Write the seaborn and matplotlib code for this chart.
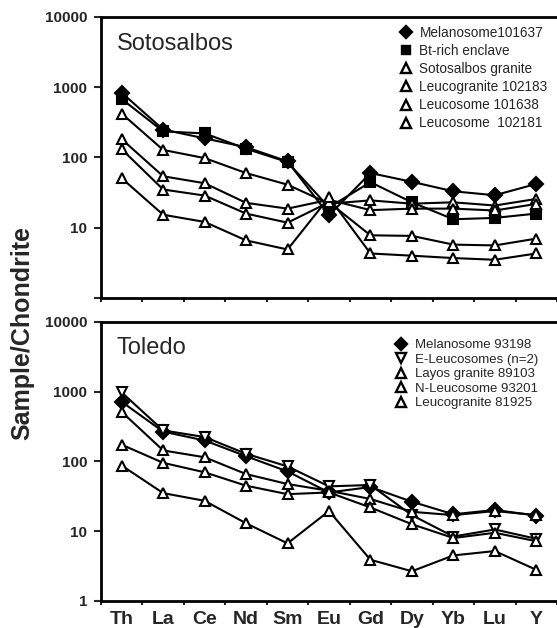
import numpy as np
import pandas as pd
import seaborn as sns
import matplotlib.pyplot as plt
from matplotlib.lines import Line2D

# REE + Th, Y normalised to chondrite
elements = ['Th', 'La', 'Ce', 'Nd', 'Sm', 'Eu', 'Gd', 'Dy', 'Yb', 'Lu', 'Y']

# Sotosalbos samples
melanosome_101637 = [834, 250, 187, 140, 88, 15, 60, 45, 33, 29, 42]
bt_rich_enclave = [680, 235, 220, 133, 86, 19.5, 44.5, 23, 13.2, 13.8, 15.9]
sotosalbos_granite = [421, 128, 98, 60, 41, 22, 24.5, 22, 23, 20.7, 25.7]
leucogranite_102183 = [182, 54, 43, 22.6, 18.7, 25, 17.8, 18.7, 18.7, 17.6, 21.8]
leucosome_101638 = [131, 35, 28.7, 15.9, 11.8, 23, 7.8, 7.65, 5.75, 5.6, 7.0]
leucosome_102181 = [50.6, 15.3, 12.1, 6.6, 4.9, 27, 4.3, 4.0, 3.7, 3.5, 4.3]

# Toledo samples
melanosome_93198 = [717, 268, 200, 119, 72, 36, 43, 26.5, 17.5, 20.2, 16.8]
e_leucosomes = [977, 279, 224, 129, 85, 44, 46, 17, 8.4, 10.6, 7.8]
layos_granite_89103 = [514, 144, 115, 66, 47.5, 38, 29, 19, 17, 19.5, 17]
n_leucosome_93201 = [174, 95.6, 70, 45, 34, 36, 21.9, 12.6, 8.0, 9.5, 7.2]
leucogranite_81925 = [87.5, 35.2, 27.3, 13, 6.7, 19.5, 3.9, 2.67, 4.5, 5.2, 2.8]

# (label, values, marker, filled)
sotosalbos = [
    ('Melanosome101637', melanosome_101637, 'D', True),
    ('Bt-rich enclave', bt_rich_enclave, 's', True),
    ('Sotosalbos granite', sotosalbos_granite, '^', False),
    ('Leucogranite 102183', leucogranite_102183, '^', False),
    ('Leucosome 101638', leucosome_101638, '^', False),
    ('Leucosome  102181', leucosome_102181, '^', False),
]
toledo = [
    ('Melanosome 93198', melanosome_93198, 'D', True),
    ('E-Leucosomes (n=2)', e_leucosomes, 'v', False),
    ('Layos granite 89103', layos_granite_89103, '^', False),
    ('N-Leucosome 93201', n_leucosome_93201, '^', False),
    ('Leucogranite 81925', leucogranite_81925, '^', False),
]

sns.set_style('ticks')
plt.rcParams['font.family'] = ['Liberation Sans', 'DejaVu Sans']

fig = plt.figure(figsize=(5.57, 6.28), dpi=100)
ax_top = fig.add_axes([0.1813, 0.5255, 0.8187, 0.4475])
ax_bot = fig.add_axes([0.1813, 0.043, 0.8187, 0.4443])

pos = np.arange(len(elements))


def draw_panel(ax, series, title):
    handles = []
    for label, vals, mk, filled in series:
        df = pd.DataFrame({'pos': pos, 'value': vals})
        fc = 'black' if filled else 'white'
        ms = 7 if mk == 'D' else (6.5 if mk == 's' else 7.5)
        sns.lineplot(data=df, x='pos', y='value', ax=ax, color='black',
                     linewidth=1.5, marker=mk, markersize=ms,
                     markerfacecolor=fc, markeredgecolor='black',
                     markeredgewidth=1.5, sort=False, legend=False)
        handles.append(Line2D([], [], linestyle='none', marker=mk,
                              markersize=ms - 0.5, markerfacecolor=fc,
                              markeredgecolor='black', markeredgewidth=1.7,
                              label=label))
    ax.set_yscale('log')
    ax.set_ylim(1, 10000)
    ax.set_xlim(-0.5, 10.5)
    ax.set_xlabel('')
    ax.set_ylabel('')
    for s in ax.spines.values():
        s.set_linewidth(2.0)
        s.set_color('black')
    ax.spines['right'].set_visible(False)
    ax.text(0.035, 0.905, title, transform=ax.transAxes, fontsize=17,
            va='center', ha='left')
    ax.set_yticks([1, 10, 100, 1000, 10000])
    ax.minorticks_off()
    ax.set_xticks(pos)
    ax.set_xticks(np.arange(-0.5, 10.6, 1), minor=True)
    ax.tick_params(axis='y', which='major', direction='out', length=5,
                   width=1.5, pad=5, labelsize=11)
    ax.tick_params(axis='x', which='major', length=0, pad=7, labelsize=14)
    ax.tick_params(axis='x', which='minor', direction='out', length=3,
                   width=1.5)
    return handles


h_top = draw_panel(ax_top, sotosalbos, 'Sotosalbos')
ax_top.set_yticklabels(['', '10', '100', '1000', '10000'], fontweight='bold')
ax_top.set_xticklabels([])

h_bot = draw_panel(ax_bot, toledo, 'Toledo')
ax_bot.set_yticklabels(['1', '10', '100', '1000', '10000'], fontweight='bold')
ax_bot.set_xticklabels(elements, fontweight='bold')

ax_top.legend(handles=h_top, loc='upper left', frameon=False,
              bbox_to_anchor=(399 / 557, 1 - 26 / 628),
              bbox_transform=fig.transFigure, fontsize=9.8,
              handlelength=1.0, handletextpad=0.5, labelspacing=0.3,
              borderpad=0, borderaxespad=0)
ax_bot.legend(handles=h_bot, loc='upper left', frameon=False,
              bbox_to_anchor=(394 / 557, 1 - 339 / 628),
              bbox_transform=fig.transFigure, fontsize=9.5,
              handlelength=1.0, handletextpad=0.6, labelspacing=0.17,
              borderpad=0, borderaxespad=0)

fig.text(22 / 557, 1 - 333 / 628, 'Sample/Chondrite', rotation=90,
         fontsize=18, fontweight='bold', va='center', ha='center')

fig.savefig('out.png', dpi=100)
